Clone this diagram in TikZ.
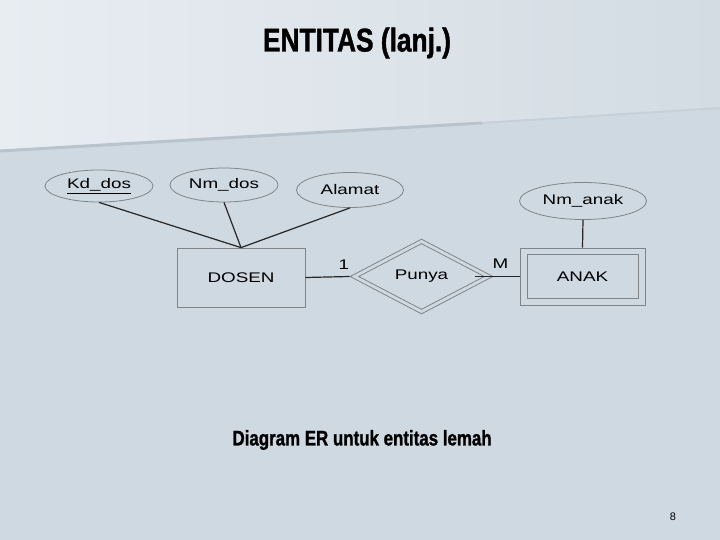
\documentclass[tikz,border=0pt]{standalone}
\usepackage{fontspec}
\setmainfont{Liberation Sans}
\newfontfamily\erfont[FakeStretch=1.35]{Liberation Sans}
\newfontfamily\headfont[FakeStretch=0.8,FakeBold=1.2]{Liberation Sans Bold}
\usetikzlibrary{shapes.geometric}
\definecolor{slide}{HTML}{CFD9E1}
\definecolor{slidetop}{HTML}{E8EDF2}
\definecolor{slidemid}{HTML}{D3DCE3}
\definecolor{band}{HTML}{B9C3CB}
\definecolor{outline}{HTML}{7F8488}
\begin{document}
\begin{tikzpicture}[x=1bp,y=-1bp,
  attr/.style={ellipse,draw=outline,line width=.8bp,inner sep=0pt,
    font=\erfont\fontsize{14}{16}\selectfont},
  entity/.style={rectangle,draw=outline,line width=.8bp,inner sep=0pt,
    minimum width=128bp,minimum height=59bp,font=\erfont\fontsize{14}{16}\selectfont},
  weakrel/.style={diamond,draw=outline,line width=.8bp,inner sep=0pt,
    font=\erfont\fontsize{14}{16}\selectfont},
  link/.style={draw=black!85,line width=1.2bp},
  card/.style={inner sep=0pt,font=\erfont\fontsize{14}{16}\selectfont}]
\useasboundingbox (0,0) rectangle (720,540);
\fill[slide] (0,0) rectangle (720,540);
\shade[left color=slidetop,right color=slidemid] (0,0) -- (720,0) -- (720,108) -- (482,122) -- (0,150) -- cycle;
\draw[band,line width=3bp] (0,151) -- (482,123);
\draw[band!40!slide,line width=2bp] (482,123) -- (720,108);
\node[font=\headfont\fontsize{33}{36}\selectfont] (title) at (357,43) {ENTITAS (lanj.)};
\node[attr,minimum width=108bp,minimum height=32bp] (kd) at (99,186) {\underline{Kd\_dos}};
\node[attr,minimum width=108bp,minimum height=34bp] (nm) at (224,185) {Nm\_dos};
\node[attr,minimum width=107bp,minimum height=35bp] (alamat) at (350,190) {Alamat};
\node[attr,minimum width=127bp,minimum height=37bp] (nmanak) at (583,201) {Nm\_anak};
\node[entity] (dosen) at (241,277.5) {DOSEN};
\node[weakrel,minimum width=143bp,minimum height=75bp] (punya) at (421.5,276.5) {};
\node[weakrel,minimum width=126bp,minimum height=66bp] (punyain) at (punya) {Punya};
\node[entity,minimum width=125bp,minimum height=57bp] (anak) at (582.5,276.5) {};
\node[entity,minimum width=111bp,minimum height=44bp] (anakin) at (anak) {ANAK};
\draw[link] (kd.south) -- (dosen.north);
\draw[link] (nm.south) -- (dosen.north);
\draw[link] (alamat.south) -- (dosen.north);
\draw[link] (nmanak.south) -- (anak.north);
\draw[link] (dosen.east) -- (punya.west)
  node[card,pos=.87,above=7bp] {1};
\draw[link,shorten <=-18bp] (punya.east) -- (anak.west)
  node[card,pos=.27,above=7bp] {M};
\node[font=\headfont\fontsize{21.2}{24}\selectfont,anchor=west] (caption) at (229,440) {Diagram ER untuk entitas lemah};
\node[font=\fontsize{11}{13}\selectfont] (page) at (673,517) {8};
\end{tikzpicture}
\end{document}
